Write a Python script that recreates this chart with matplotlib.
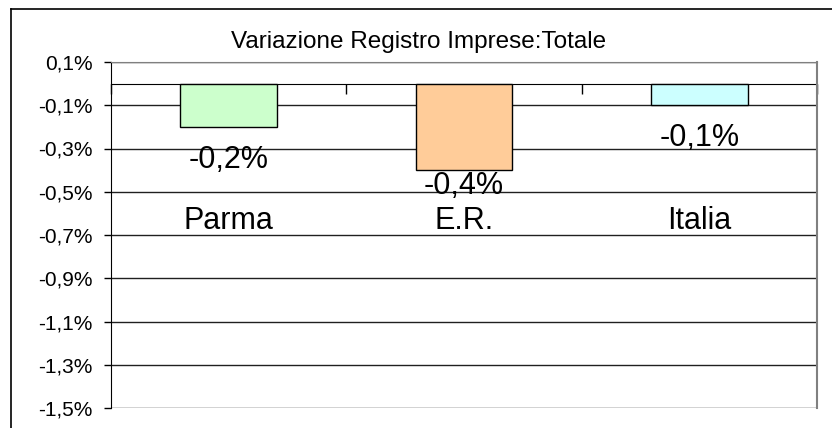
import matplotlib
matplotlib.use('Agg')
import matplotlib.pyplot as plt
from matplotlib.lines import Line2D

plt.rcParams['font.family'] = ['Liberation Sans', 'DejaVu Sans']

# data (percent)
categories = ['Parma', 'E.R.', 'Italia']
values = [-0.2, -0.4, -0.1]
value_labels = ['-0,2%', '-0,4%', '-0,1%']
bar_colors = ['#CCFFCC', '#FFCC99', '#CCFFFF']
yticks = [0.1, -0.1, -0.3, -0.5, -0.7, -0.9, -1.1, -1.3, -1.5]

# label offsets below bar ends (points), as placed in the original
label_drop = [29.5, 17.5, 29.0]
cat_label_y = -0.67


def fmt_pct(v):
    return ('%.1f%%' % v).replace('.', ',')


def main():
    fig = plt.figure(figsize=(8.32, 4.28), dpi=100)
    ax = fig.add_axes([111/832, 1 - 408/428, (817 - 111)/832, (408 - 62)/428])

    xs = list(range(len(categories)))
    ax.bar(xs, values, width=0.41, color=bar_colors, edgecolor='black',
           linewidth=1.0, zorder=3)

    for x, v, lab, d in zip(xs, values, value_labels, label_drop):
        ax.annotate(lab, (x, v), xytext=(0, -d), textcoords='offset points',
                    ha='center', va='baseline', fontsize=22, zorder=4)
    for x, c in zip(xs, categories):
        ax.text(x, cat_label_y, c, ha='center', va='baseline', fontsize=22,
                zorder=4)

    ax.set_xlim(-0.5, len(categories) - 0.5)
    ax.set_ylim(-1.5, 0.1)
    ax.set_yticks(yticks)
    ax.set_yticklabels([fmt_pct(t) for t in yticks])
    ax.tick_params(axis='y', direction='out', length=5, width=1, pad=8,
                   labelsize=15, color='black')
    ax.yaxis.grid(True, color='#202020', linewidth=1.0, zorder=1)
    ax.set_axisbelow(True)

    # category axis crossing at zero, ticks between categories
    ax.spines['bottom'].set_position(('data', 0))
    ax.spines['bottom'].set_color('black')
    ax.spines['bottom'].set_zorder(2)
    ax.set_xticks([i - 0.5 for i in range(len(categories) + 1)])
    ax.tick_params(axis='x', direction='out', length=7.2, width=1,
                   labelbottom=False, color='black')
    ax.spines['left'].set_color('black')
    ax.spines['top'].set_color('#808080')
    ax.spines['right'].set_color('#808080')
    ax.spines['right'].set_linewidth(1.5)

    fig.text(419/832, 1 - 48/428, 'Variazione Registro Imprese:Totale',
             ha='center', va='baseline', fontsize=17.5)

    # outer chart frame (cut by the image edge on right and bottom)
    x0 = 11/832
    y0 = 1 - 9/428
    fig.add_artist(Line2D([x0, 1.0], [y0, y0], color='black', linewidth=1.2))
    fig.add_artist(Line2D([x0, x0], [0.0, y0], color='black', linewidth=1.2))

    fig.savefig('out.png', dpi=100)


if __name__ == "__main__":
    main()
